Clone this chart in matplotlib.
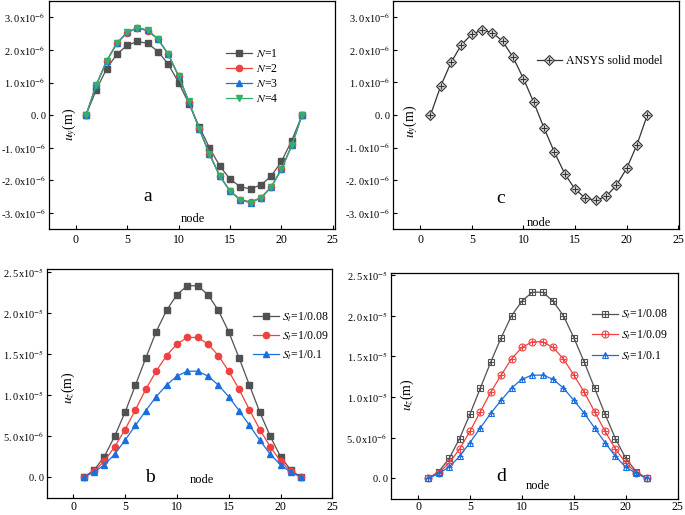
import numpy as np
import matplotlib
matplotlib.use("Agg")
import matplotlib.pyplot as plt

plt.rcParams['font.family'] = ['Liberation Serif', 'DejaVu Serif']
plt.rcParams['mathtext.fontset'] = 'stix'

# ---- data ----
nodes = np.arange(1, 23)

# panel a: u_y for N = 1..4 (x1e-6 m)
uy_n1 = [0, 0.78, 1.42, 1.87, 2.14, 2.26, 2.20, 1.95, 1.56, 1.00, 0.35,
         -0.35, -1.00, -1.56, -1.96, -2.20, -2.26, -2.14, -1.87, -1.42, -0.78, 0]
uy_n2 = [0, 0.92, 1.65, 2.20, 2.53, 2.66, 2.59, 2.32, 1.86, 1.19, 0.41,
         -0.41, -1.19, -1.86, -2.32, -2.59, -2.66, -2.53, -2.20, -1.65, -0.92, 0]
uy_n3 = [0, 0.93, 1.66, 2.21, 2.54, 2.68, 2.60, 2.33, 1.87, 1.20, 0.41,
         -0.42, -1.19, -1.87, -2.33, -2.60, -2.68, -2.54, -2.21, -1.66, -0.93, 0]
uy_n4 = [0, 0.93, 1.66, 2.21, 2.54, 2.68, 2.61, 2.33, 1.87, 1.20, 0.42,
         -0.42, -1.20, -1.87, -2.33, -2.61, -2.68, -2.54, -2.21, -1.66, -0.93, 0]

# panel c: ANSYS solid model (x1e-6 m)
uy_ansys = [0, 0.90, 1.62, 2.16, 2.48, 2.61, 2.53, 2.26, 1.77, 1.12, 0.39,
            -0.40, -1.14, -1.80, -2.28, -2.55, -2.62, -2.50, -2.16, -1.64, -0.91, 0]

# panel b: u_z for three S_t (x1e-5 m)
uz_b_008 = [0, 0.084, 0.25, 0.50, 0.79, 1.12, 1.45, 1.77, 2.03, 2.22, 2.33,
            2.33, 2.22, 2.03, 1.77, 1.45, 1.12, 0.79, 0.50, 0.25, 0.084, 0]
uz_b_009 = [0, 0.07, 0.196, 0.37, 0.58, 0.82, 1.07, 1.29, 1.48, 1.62, 1.70,
            1.70, 1.62, 1.48, 1.29, 1.07, 0.82, 0.58, 0.37, 0.196, 0.07, 0]
uz_b_010 = [0, 0.06, 0.15, 0.28, 0.45, 0.63, 0.81, 0.98, 1.12, 1.23, 1.29,
            1.29, 1.23, 1.12, 0.98, 0.81, 0.63, 0.45, 0.28, 0.15, 0.06, 0]

# panel d: u_z solid model (x1e-5 m)
uz_d_008 = [0, 0.084, 0.245, 0.49, 0.79, 1.11, 1.43, 1.73, 2.00, 2.18, 2.29,
            2.29, 2.18, 2.00, 1.73, 1.43, 1.11, 0.79, 0.49, 0.245, 0.084, 0]
uz_d_009 = [0, 0.07, 0.19, 0.36, 0.58, 0.82, 1.06, 1.27, 1.47, 1.61, 1.68,
            1.68, 1.61, 1.47, 1.27, 1.06, 0.82, 0.58, 0.36, 0.19, 0.07, 0]
uz_d_010 = [0, 0.06, 0.14, 0.27, 0.44, 0.62, 0.80, 0.96, 1.11, 1.22, 1.27,
            1.27, 1.22, 1.11, 0.96, 0.80, 0.62, 0.44, 0.27, 0.14, 0.06, 0]

labels_n = ['$N$=1', '$N$=2', '$N$=3', '$N$=4']
labels_st = ['$S_t$=1/0.08', '$S_t$=1/0.09', '$S_t$=1/0.1']

xticks = [0, 5, 10, 15, 20, 25]
yticks_uy = [-3e-6, -2e-6, -1e-6, 0, 1e-6, 2e-6, 3e-6]
ylabels_uy = ['-3.\u20090x10$^{-6}$', '-2.\u20090x10$^{-6}$', '-1.\u20090x10$^{-6}$', '0.\u20090',
              '1.\u20090x10$^{-6}$', '2.\u20090x10$^{-6}$', '3.\u20090x10$^{-6}$']
yticks_uz = [0, 5e-6, 1e-5, 1.5e-5, 2e-5, 2.5e-5]
ylabels_uz = ['0.\u20090', '5.\u20090x10$^{-6}$', '1.\u20090x10$^{-5}$', '1.\u20095x10$^{-5}$',
              '2.\u20090x10$^{-5}$', '2.\u20095x10$^{-5}$']

GRAY, RED, BLUE, GREEN = '#515151', '#F14040', '#1A6FDF', '#37AD6B'


def style_axes(ax, xlim, ylim, yticks, ylabels, xpad=3.5):
    ax.set_xlim(*xlim)
    ax.set_ylim(*ylim)
    ax.set_xticks(xticks)
    ax.set_yticks(yticks, ylabels)
    ax.tick_params(direction='in', length=3, width=0.8, top=False, right=False)
    ax.tick_params(axis='x', labelsize=8.5, pad=xpad)
    ax.tick_params(axis='y', labelsize=7.5, pad=2.5)
    for s in ax.spines.values():
        s.set_linewidth(0.9)


fig = plt.figure(figsize=(6.85, 5.15), dpi=100)

# ---- a ----
ax = fig.add_axes([0.0715, 0.5548, 0.4175, 0.4433])
e = 1e-6
for vals, c, m, lab in zip([uy_n1, uy_n2, uy_n3, uy_n4], [GRAY, RED, BLUE, GREEN],
                           ['s', 'o', '^', 'v'], labels_n):
    ax.plot(nodes, np.array(vals) * e, color=c, marker=m, ms=4.5, lw=0.9, label=lab)
style_axes(ax, (-2.6, 25.2), (-3.5e-6, 3.5e-6), yticks_uy, ylabels_uy)
ax.legend(loc='upper left', bbox_to_anchor=(0.6, 0.82), frameon=False, fontsize=8.5,
          handlelength=2.2, handletextpad=0.3, labelspacing=0.25, borderpad=0)
ax.text(0.073, 0.46, '$u_y$(m)', transform=ax.transAxes, rotation=90,
        ha='center', va='center', fontsize=10)
ax.text(11.35, -3.2e-6, 'node', ha='center', va='center', fontsize=9)
ax.text(7.0, -2.5e-6, 'a', ha='center', va='center', fontsize=14)

# ---- c ----
ax = fig.add_axes([0.5742, 0.5553, 0.4175, 0.4427])
l1, = ax.plot(nodes, np.array(uy_ansys) * e, color='#333333', marker='D', ms=5,
              mfc='#dddddd', mec='#333333', mew=0.8, lw=0.9)
l2, = ax.plot(nodes, np.array(uy_ansys) * e, color='#333333', marker='+', ms=5,
              mew=0.8, lw=0)
style_axes(ax, (-2.6, 25.1), (-3.5e-6, 3.5e-6), yticks_uy, ylabels_uy)
ax.legend([(l1, l2)], ['ANSYS solid model'], loc='upper left',
          bbox_to_anchor=(0.48, 0.79), frameon=False, fontsize=8.5,
          handlelength=2.2, handletextpad=0.3, borderpad=0)
ax.text(0.061, 0.47, '$u_y$(m)', transform=ax.transAxes, rotation=90,
        ha='center', va='center', fontsize=10)
ax.text(11.5, -3.3e-6, 'node', ha='center', va='center', fontsize=9)
ax.text(7.75, -2.55e-6, 'c', ha='center', va='center', fontsize=14)

# ---- b ----
ax = fig.add_axes([0.0691, 0.0336, 0.4161, 0.4435])
e = 1e-5
for vals, c, m, lab in zip([uz_b_008, uz_b_009, uz_b_010], [GRAY, RED, BLUE],
                           ['s', 'o', '^'], labels_st):
    ax.plot(nodes, np.array(vals) * e, color=c, marker=m, ms=4.5, lw=0.9, label=lab)
style_axes(ax, (-2.5, 25), (-2.5e-6, 2.53e-5), yticks_uz, ylabels_uz, xpad=2.5)
ax.legend(loc='upper left', bbox_to_anchor=(0.7, 0.845), frameon=False, fontsize=8.5,
          handlelength=2.2, handletextpad=0.3, labelspacing=0.45, borderpad=0)
ax.text(0.074, 0.48, '$u_z$(m)', transform=ax.transAxes, rotation=90,
        ha='center', va='center', fontsize=10)
ax.text(12.4, -0.4e-6, 'node', ha='center', va='center', fontsize=9)
ax.text(7.4, 0, 'b', ha='center', va='center', fontsize=14)

# ---- d ----
ax = fig.add_axes([0.5708, 0.0317, 0.4186, 0.4388])
handles = []
for vals, c, m in zip([uz_d_008, uz_d_009, uz_d_010], [GRAY, RED, BLUE], ['s', 'o', '^']):
    y = np.array(vals) * e
    h1, = ax.plot(nodes, y, color=c, marker=m, ms=5, mfc='none', mec=c, mew=0.8, lw=0.9)
    h2, = ax.plot(nodes, y, color=c, marker='+', ms=5, mew=0.8, lw=0)
    handles.append((h1, h2))
style_axes(ax, (-2.6, 25), (-2.5e-6, 2.53e-5), yticks_uz, ylabels_uz, xpad=2.0)
ax.legend(handles, labels_st, loc='upper left', bbox_to_anchor=(0.68, 0.87),
          frameon=False, fontsize=8.5, handlelength=2.2, handletextpad=0.3,
          labelspacing=0.6, borderpad=0)
ax.text(0.056, 0.46, '$u_z$(m)', transform=ax.transAxes, rotation=90,
        ha='center', va='center', fontsize=10)
ax.text(11.5, -1.0e-6, 'node', ha='center', va='center', fontsize=9)
ax.text(8.0, 0.25e-6, 'd', ha='center', va='center', fontsize=14)

fig.savefig('out.png', dpi=100)
